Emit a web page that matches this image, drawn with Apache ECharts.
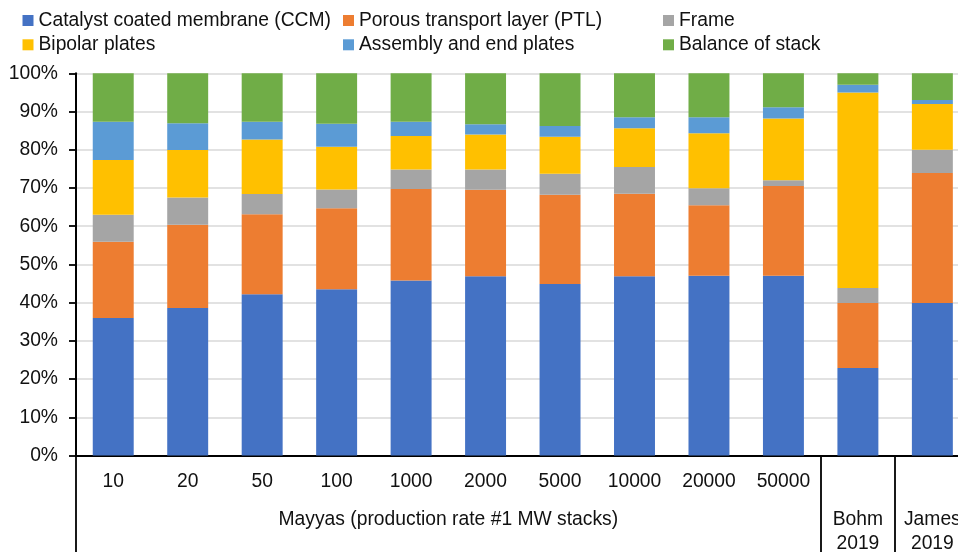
<!DOCTYPE html>
<html>
<head>
<meta charset="utf-8">
<script src="https://cdn.jsdelivr.net/npm/echarts@6/dist/echarts.min.js"></script>
<style>
  html, body { margin: 0; padding: 0; background: #fff; }
  #chart { width: 958px; height: 552px; }
</style>
</head>
<body>
<div id="chart"></div>
<script>
// Categories (first row labels) and groups (second row labels)
const categories = ['10', '20', '50', '100', '1000', '2000', '5000', '10000', '20000', '50000', 'Bohm 2019', 'James 2019'];
const categoryLabels = ['10', '20', '50', '100', '1000', '2000', '5000', '10000', '20000', '50000', '', ''];
const groupLabels = ['Mayyas (production rate #1 MW stacks)', 'Bohm\n2019', 'James\n2019'];
const groupCenters = [5, 10.5, 11.5];
const groupDividers = [0, 10, 11];

// Series values (% of stack cost)
const ccm      = [36.0, 38.6, 42.2, 43.5, 45.8, 46.9, 44.9, 46.9, 47.0, 47.0, 22.9, 39.9];
const ptl      = [19.9, 21.8, 20.9, 21.2, 23.9, 22.6, 23.3, 21.6, 18.5, 23.5, 17.0, 34.0];
const frame    = [ 7.1,  7.1,  5.3,  4.9,  5.1,  5.3,  5.5,  7.0,  4.4,  1.5,  3.9,  6.1];
const bipolar  = [14.3, 12.4, 14.3, 11.2,  8.8,  9.2,  9.7, 10.1, 14.4, 16.2, 51.2, 12.0];
const assembly = [10.0,  7.0,  4.6,  6.0,  3.7,  2.7,  2.8,  2.9,  4.2,  2.9,  2.0,  1.0];
const balance  = [12.7, 13.1, 12.7, 13.2, 12.7, 13.3, 13.8, 11.5, 11.5,  8.9,  3.0,  7.0];

const yTicks = { min: 0, max: 100, interval: 10 };

const seriesNames = ['Catalyst coated membrane (CCM)', 'Porous transport layer (PTL)', 'Frame',
                     'Bipolar plates', 'Assembly and end plates', 'Balance of stack'];
const seriesData = [ccm, ptl, frame, bipolar, assembly, balance];
const colors = ['#4472C4', '#ED7D31', '#A5A5A5', '#FFC000', '#5B9BD5', '#70AD47'];

const FONT = '"Liberation Sans", Arial, sans-serif';
const TXT = '#111';
const FS = 19.3;

const chart = echarts.init(document.getElementById('chart'), null, { renderer: 'canvas' });

function legendCol(names, left) {
  return {
    orient: 'vertical',
    left: left,
    top: 11,
    padding: 0,
    itemWidth: 11,
    itemHeight: 11,
    itemGap: 5.3,
    icon: 'rect',
    selectedMode: false,
    data: names,
    textStyle: { fontFamily: FONT, fontSize: FS, color: TXT, lineHeight: 19 }
  };
}

const option = {
  backgroundColor: '#fff',
  animation: false,
  color: colors,
  legend: [
    legendCol([seriesNames[0], seriesNames[3]], 22.5),
    legendCol([seriesNames[1], seriesNames[4]], 343),
    legendCol([seriesNames[2], seriesNames[5]], 663)
  ],
  grid: { left: 76, top: 73.3, right: -11.6, bottom: 96.5, containLabel: false, outerBoundsMode: 'none' },
  xAxis: [
    {
      type: 'category',
      data: categories,
      axisLine: { show: true, lineStyle: { color: '#000', width: 1.8 } },
      axisTick: { show: false },
      axisLabel: {
        interval: 0,
        margin: 16.5,
        fontFamily: FONT, fontSize: FS, color: TXT, lineHeight: 19,
        formatter: function (v, i) { return categoryLabels[i]; }
      },
      splitLine: { show: false }
    },
    {
      type: 'value',
      position: 'bottom',
      min: 0,
      max: categories.length,
      axisLine: { show: false },
      axisTick: {
        show: true,
        customValues: groupDividers,
        length: 97,
        lineStyle: { color: '#000', width: 1.8 }
      },
      axisLabel: {
        show: true,
        customValues: groupCenters,
        margin: 52.5,
        fontFamily: FONT, fontSize: FS, color: TXT, lineHeight: 24,
        formatter: function (v) {
          const i = groupCenters.indexOf(v);
          return i >= 0 ? groupLabels[i] : '';
        }
      },
      splitLine: { show: false }
    }
  ],
  yAxis: {
    type: 'value',
    min: yTicks.min,
    max: yTicks.max,
    interval: yTicks.interval,
    axisLine: { show: true, lineStyle: { color: '#000', width: 2 } },
    axisTick: { show: true, length: 7, lineStyle: { color: '#000', width: 1.8 } },
    axisLabel: {
      margin: 18,
      fontFamily: FONT, fontSize: FS, color: TXT,
      formatter: '{value}%'
    },
    splitLine: { show: true, lineStyle: { color: '#d9d9d9', width: 1.5 } }
  },
  series: seriesNames.map(function (name, k) {
    return {
      name: name,
      type: 'bar',
      stack: 'total',
      barWidth: '55%',
      xAxisIndex: 0,
      data: seriesData[k],
      itemStyle: { color: colors[k] }
    };
  })
};

chart.setOption(option);
</script>
</body>
</html>
